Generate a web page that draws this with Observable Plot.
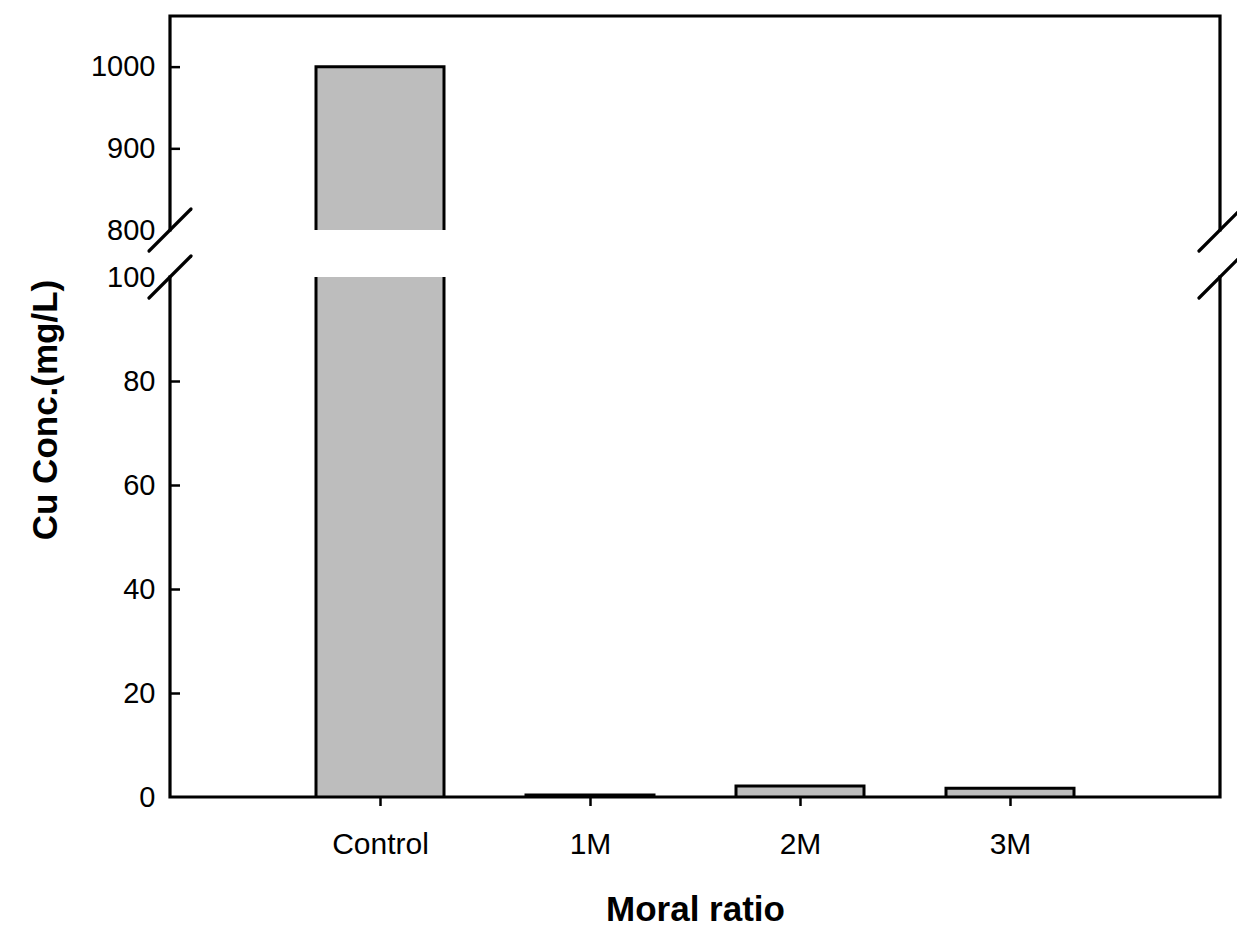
<!DOCTYPE html>
<html><head><meta charset="utf-8">
<script src="https://cdn.jsdelivr.net/npm/d3@7"></script>
<script src="https://cdn.jsdelivr.net/npm/@observablehq/plot@0.6"></script>
<style>
body{margin:0;background:#fff}
#chart svg{font-family:Arial,"Liberation Sans",Helvetica,sans-serif;background:#fff}
</style>
</head><body><div id="chart"></div>
<script>
// ---- data ----
const categories = ["Control", "1M", "2M", "3M"];
const concentrations = [1000, 0.4, 2.1, 1.7];
const yTickLabels = [0, 20, 40, 60, 80, 100, 800, 900, 1000];
const yTickMarks = [20, 40, 60, 80, 900, 1000];
const breakLow = 100, breakHigh = 800, yTop = 1062;

const W = 1237, H = 930;
const M = {top: 16, right: 17, bottom: 133, left: 170};

const rows = categories.map((c, i) => ({ratio: c, conc: concentrations[i]}));
const segments = [];
rows.forEach(d => {
  segments.push({ratio: d.ratio, y1: 0, y2: Math.min(d.conc, breakLow), lower: true, broken: d.conc > breakLow});
  if (d.conc > breakHigh) segments.push({ratio: d.ratio, y1: breakHigh, y2: d.conc, lower: false, broken: true});
});

// bar outlines (no edge drawn at the axis break)
function outlines(index, scales) {
  const x = scales.x, y = scales.y;
  const bw = x.bandwidth();
  const g = d3.create("svg:g").attr("fill", "none").attr("stroke", "black").attr("stroke-width", 3);
  segments.forEach(s => {
    const x0 = x(s.ratio), x1 = x0 + bw;
    const yb = y(s.y1), yt = y(s.y2);
    let p;
    if (s.lower && !s.broken) p = `M${x0},${yb}V${yt}H${x1}V${yb}`;
    else if (s.lower) p = `M${x0},${yb}V${yt}M${x1},${yt}V${yb}`;
    else p = `M${x0},${yb}V${yt}H${x1}V${yb}`;
    g.append("path").attr("d", p);
  });
  return g.node();
}

// frame with broken axes
function frame(index, scales, values, dims) {
  const y = scales.y;
  const L = dims.marginLeft, R = dims.width - dims.marginRight;
  const y0 = y(0), yb = y(breakLow), yh = y(breakHigh), yt = y(yTop);
  const g = d3.create("svg:g").attr("fill", "none").attr("stroke", "black").attr("stroke-width", 3.2).attr("stroke-linecap", "square");
  g.append("path").attr("d", `M${L},${yb}V${y0}H${R}V${yb}M${L},${yh}V${yt}H${R}V${yh}`);
  const s = 21;
  for (const X of [L, R]) for (const Y of [yh, yb]) {
    g.append("path").attr("d", `M${X - s},${Y + s}L${X + s},${Y - s}`).attr("stroke-linecap", "round");
  }
  return g.node();
}

const chart = Plot.plot({
  width: W, height: H,
  marginTop: M.top, marginRight: M.right, marginBottom: M.bottom, marginLeft: M.left,
  style: {fontFamily: "Arial, 'Liberation Sans', sans-serif", background: "#fff", color: "black"},
  x: {type: "band", domain: categories, paddingInner: 0.39, paddingOuter: 0.695, label: null},
  y: {type: "linear", domain: [0, breakLow, breakHigh, yTop], range: [797, 277, 230, 16], label: null},
  marks: [
    Plot.rectY(segments, {x: "ratio", y1: "y1", y2: "y2", fill: "#bdbdbd"}),
    outlines,
    frame,
    Plot.axisY({ticks: yTickMarks, tickSize: 10, dx: 10, tickFormat: () => "", strokeWidth: 2.5}),
    Plot.axisY({ticks: yTickLabels, tickSize: 0, tickPadding: 15, fontSize: 29, tickFormat: d => String(d)}),
    Plot.axisX({tickSize: 9, tickPadding: 26, fontSize: 30, strokeWidth: 2.5, label: null}),
    Plot.text(["Moral ratio"], {frameAnchor: "bottom", lineAnchor: "middle", textAnchor: "middle", dy: 112, fontSize: 35, fontWeight: "bold"}),
    Plot.text(["Cu Conc.(mg/L)"], {frameAnchor: "left", lineAnchor: "middle", textAnchor: "middle", dx: -125, dy: 3, rotate: -90, fontSize: 35, fontWeight: "bold"})
  ]
});
document.getElementById("chart").append(chart);
</script>
</body></html>
